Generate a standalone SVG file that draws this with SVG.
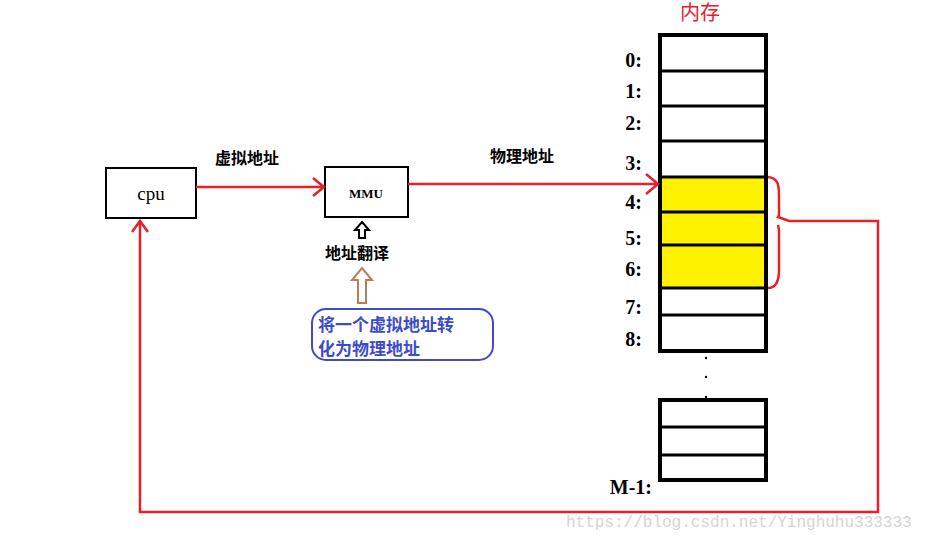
<svg xmlns="http://www.w3.org/2000/svg" width="937" height="541" viewBox="0 0 937 541">
<style>
.t{font-family:"Liberation Serif","Noto Sans CJK SC",serif;font-weight:bold;fill:#000}
.b{fill:none;stroke:#000;stroke-width:2}
.r{fill:none;stroke:#e8202a;stroke-width:2.5}
.cell{stroke:#000;stroke-width:3}
</style>
<rect width="937" height="541" fill="#fff"/>
<g id="cpu"><rect class="b" x="106" y="168" width="90" height="50"/><text x="151" y="200" font-size="19" text-anchor="middle" font-family="Liberation Serif,serif">cpu</text></g>
<g id="mmu"><rect class="b" x="325" y="167" width="83" height="50"/><text class="t" x="366" y="198" font-size="13" text-anchor="middle">MMU</text></g>
<g id="labels">
<text class="t" x="215" y="164" font-size="16">虚拟地址</text>
<text class="t" x="490" y="162" font-size="16">物理地址</text>
<text class="t" x="325" y="259" font-size="16">地址翻译</text>
<text x="680" y="20" font-size="20" fill="#e8202a" font-family="Liberation Serif,Noto Sans CJK SC,serif">内存</text>
</g>
<g id="note">
<rect x="312" y="309" width="181" height="51" rx="14" fill="none" stroke="#3c4bcc" stroke-width="2"/>
<text x="318" y="331" font-size="17" fill="#3c4bcc" font-weight="bold" font-family="Liberation Serif,Noto Sans CJK SC,serif">将一个虚拟地址转</text>
<text x="318" y="355" font-size="17" fill="#3c4bcc" font-weight="bold" font-family="Liberation Serif,Noto Sans CJK SC,serif">化为物理地址</text>
</g>
<g id="hollow-arrows">
<path d="M362,222 L369,230 L365,230 L365,238 L359,238 L359,230 L355,230 Z" fill="#fff" stroke="#000" stroke-width="2"/>
<path d="M362,268 L372,280 L366,280 L366,303 L358,303 L358,280 L352,280 Z" fill="#fff" stroke="#b77f5a" stroke-width="2"/>
</g>
<g id="memory">
<rect x="660" y="35" width="106" height="142" fill="#fff"/>
<rect x="660" y="177" width="106" height="111" fill="#fff200"/>
<rect x="660" y="288" width="106" height="62" fill="#fff"/>
<path class="cell" d="M660,71H766M660,106H766M660,141H766M660,177H766M660,212H766M660,245H766M660,288H766M660,315H766"/>
<rect x="660" y="35" width="106" height="316" fill="none" stroke="#000" stroke-width="4"/>
<rect x="660" y="400" width="106" height="80" fill="#fff" stroke="#000" stroke-width="4"/>
<path class="cell" d="M660,427H766M660,455H766"/>
<circle cx="706" cy="358" r="1.2"/><circle cx="706" cy="377" r="1.2"/><circle cx="706" cy="397" r="1.2"/>
<g class="t" font-size="20" text-anchor="end">
<text x="642" y="67">0:</text><text x="642" y="98">1:</text><text x="642" y="130">2:</text><text x="642" y="170">3:</text>
<text x="642" y="209">4:</text><text x="642" y="245">5:</text><text x="642" y="276">6:</text><text x="642" y="314">7:</text><text x="642" y="346">8:</text>
<text x="652" y="494">M-1:</text>
</g>
</g>
<g id="connectors">
<path class="r" d="M196,187H324M313,178L324,187L313,196"/>
<path class="r" d="M408,184H658M646,174L658,184L646,194"/>
<path class="r" d="M768,177C778,178 779,185 779,195V215L778,217L789,221H878V512H140V221M132,232L140,221L148,232"/>
<path class="r" d="M778,225L779,230V270C779,283 775,288 768,288"/>
</g>
<text x="566" y="527" font-size="16" fill="#d4d4d4" font-family="Liberation Mono,monospace">https://blog.csdn.net/Yinghuhu333333</text>
</svg>
